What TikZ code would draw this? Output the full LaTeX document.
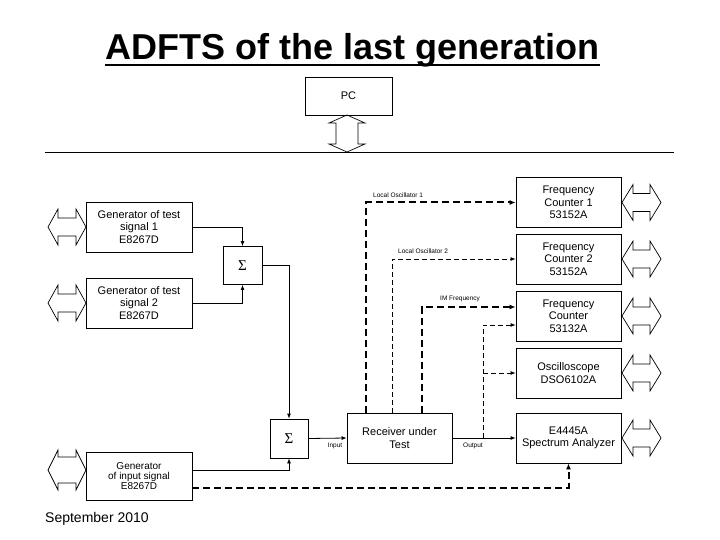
\documentclass[tikz,border=0pt]{standalone}
\usepackage{fontspec}
\setmainfont{Liberation Sans}
\newfontfamily\sigfont{Liberation Serif}
\usetikzlibrary{arrows.meta}
\begin{document}
\begin{tikzpicture}[x=1pt,y=-1pt,
  box/.style={draw,line width=0.8pt,minimum width=105pt,minimum height=50pt,inner sep=1pt,align=center,font=\fontsize{11}{12.5}\selectfont},
  sumbox/.style={draw,line width=0.8pt,minimum width=39pt,minimum height=38pt,inner sep=0pt,font=\sigfont\fontsize{15}{15}\selectfont},
  wire/.style={line width=0.8pt},
  arr/.style={wire,-{Latex[length=5pt,width=4pt]}},
  thindash/.style={arr,dash pattern=on 5pt off 3pt},
  thickdash/.style={line width=2pt,dash pattern=on 7pt off 4pt,-{Latex[length=6pt,width=5pt]}},
  tinylbl/.style={font=\fontsize{6.5}{7}\selectfont,inner sep=0pt},
  pics/blockarrow/.style n args={4}{code={\draw[line width=0.7pt] (-#1,0) -- (-#1+#4,-#3) -- (-#1+#4,-#2) -- (#1-#4,-#2) -- (#1-#4,-#3) -- (#1,0) -- (#1-#4,#3) -- (#1-#4,#2) -- (-#1+#4,#2) -- (-#1+#4,#3) -- cycle;}}
]
\useasboundingbox (0,0) rectangle (720,540);

% title
\node[font=\bfseries\fontsize{36}{36}\selectfont,inner sep=0pt,anchor=base] (title) at (352.5,60) {ADFTS of the last generation};
\draw[line width=1.8pt] ([yshift=-5pt]title.base west) -- ([yshift=-5pt]title.base east);

% PC and bus
\node[box,minimum width=87pt,minimum height=38pt] (pc) at (348.5,96) {PC};
\pic[rotate=90] at (347,133.5) {blockarrow={18.5}{11}{18}{8}};
\coordinate (busL) at (45,152);
\coordinate (busR) at (674,152);
\draw[wire] (busL) -- (busR);

% generators
\node[box,minimum width=106pt] (gen1) at (139,227) {Generator of test\\signal 1\\E8267D};
\node[box,minimum width=106pt] (gen2) at (139,303) {Generator of test\\signal 2\\E8267D};
\node[box,minimum width=106pt,minimum height=48pt,font=\fontsize{10}{10}\selectfont] (gen3) at (139,476) {Generator\\of input signal\\E8267D};
\pic at (67,227) {blockarrow={19}{9}{18}{10}};
\pic at (67,303) {blockarrow={19}{9}{18}{10}};
\pic at (67,470) {blockarrow={19}{13}{20}{10}};

% summers
\node[sumbox] (sig1) at (242.5,265.5) {Σ};
\node[sumbox,minimum width=38pt,minimum height=39pt] (sig2) at (289,438.5) {Σ};

% receiver
\node[box] (rec) at (399.5,438) {Receiver under\\Test};

% instruments
\node[box] (fc1) at (568.5,202.5) {Frequency\\Counter 1\\53152A};
\node[box] (fc2) at (568.5,259) {Frequency\\Counter 2\\53152A};
\node[box] (fc3) at (568.5,316) {Frequency\\Counter\\53132A};
\node[box] (osc) at (568.5,373) {Oscilloscope\\DSO6102A};
\node[box] (spec) at (568.5,438) {E4445A\\Spectrum Analyzer};
\foreach \yy in {202.5,259,316,373,438}
  \pic at (641.5,\yy) {blockarrow={19.5}{9}{18}{11}};

% signal paths
\draw[arr] (gen1.east) -| (sig1.north);
\draw[arr] (gen2.east) -| (sig1.south);
\draw[arr] (sig1.east) -| (sig2.north);
\draw[arr] ([yshift=6pt]gen3.east) -| (sig2.south);
\draw[arr] (sig2.east) -- (rec.west);
\draw[arr] (rec.east) -- (spec.west);
\node[tinylbl] (inlbl) at (335,446) {Input};
\node[tinylbl] (outlbl) at (473,446) {Output};

% output taps
\coordinate (tap) at (483,438);
\coordinate (tapo) at (483,373);
\draw[thindash] (tap) |- ([yshift=-9pt]fc3.west);
\draw[thindash] (tapo) -- (osc.west);

% oscillator / IM lines
\draw[thickdash] ([xshift=-33.5pt]rec.north) |- (fc1.west);
\node[tinylbl,anchor=base west] (lo1) at (373,197) {Local Oscillator 1};
\draw[thindash] ([xshift=-7.5pt]rec.north) |- (fc2.west);
\node[tinylbl,anchor=base west] (lo2) at (398,253) {Local Oscillator 2};
\draw[thickdash] ([xshift=22.5pt]rec.north) |- ([yshift=9pt]fc3.west);
\node[tinylbl,anchor=base west] (imf) at (440,300) {IM Frequency};

% bottom reference line
\draw[thickdash] ([yshift=-12pt]gen3.east) -| (spec.south);

% footer
\node[font=\fontsize{14}{14}\selectfont,inner sep=0pt,anchor=base west] (date) at (45,522) {September 2010};
\end{tikzpicture}
\end{document}
